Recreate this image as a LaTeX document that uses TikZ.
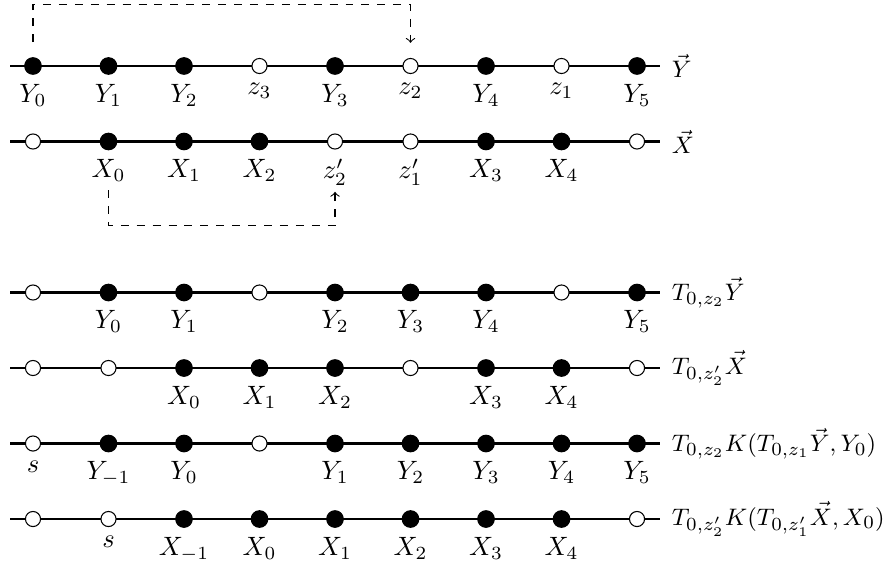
\documentclass[tikz,border=0pt]{standalone}
\usepackage{amsmath, amssymb}
\usepackage{tikz}
\usetikzlibrary{arrows.meta, positioning}

\begin{document}
\begin{tikzpicture}[
  fulldot/.style  = {circle, draw=black, fill=black, inner sep=0pt,
                     minimum size=2.2mm},
  opendot/.style  = {circle, draw=black, fill=white, inner sep=0pt,
                     minimum size=2.0mm},
  rail/.style     = {line width=0.8pt},
  jump/.style     = {dashed, -to},
  rowlbl/.style   = {anchor=west, inner sep=4.2pt,
                     font=\fontsize{9.5}{11}\selectfont},
]
\useasboundingbox (-0.437,-6.596) rectangle (11.258,0.874);
% the six lines
\coordinate (yl)  at (-0.3, 0);  \coordinate (yr)  at (8.3, 0);
\coordinate (xl)  at (-0.3,-1);  \coordinate (xr)  at (8.3,-1);
\coordinate (tyl) at (-0.3,-3);  \coordinate (tyr) at (8.3,-3);
\coordinate (txl) at (-0.3,-4);  \coordinate (txr) at (8.3,-4);
\coordinate (kyl) at (-0.3,-5);  \coordinate (kyr) at (8.3,-5);
\coordinate (kxl) at (-0.3,-6);  \coordinate (kxr) at (8.3,-6);
\draw[rail] (yl)  -- (yr)  node[rowlbl] {$\vec{Y}$};
\draw[rail] (xl)  -- (xr)  node[rowlbl] {$\vec{X}$};
\draw[rail] (tyl) -- (tyr) node[rowlbl] {$T_{0,z_2}\vec{Y}$};
\draw[rail] (txl) -- (txr) node[rowlbl] {$T_{0,z'_2}\vec{X}$};
\draw[rail] (kyl) -- (kyr) node[rowlbl] {$T_{0,z_2}K(T_{0,z_1}\vec{Y},Y_0)$};
\draw[rail] (kxl) -- (kxr) node[rowlbl] {$T_{0,z'_2}K(T_{0,z'_1}\vec{X},X_0)$};
% points of each line
\foreach \s/\l [count=\i from 0] in {fulldot/Y_0, fulldot/Y_1, fulldot/Y_2,
    opendot/z_3, fulldot/Y_3, opendot/z_2, fulldot/Y_4, opendot/z_1, fulldot/Y_5}
  \node[\s, label={below:$\l$}] (y\i) at (\i,0) {};
\foreach \s/\l [count=\i from 0] in {opendot/{}, fulldot/X_0, fulldot/X_1,
    fulldot/X_2, opendot/z'_2, opendot/z'_1, fulldot/X_3, fulldot/X_4, opendot/{}}
  \node[\s, label={below:$\l$}] (x\i) at (\i,-1) {};
\foreach \s/\l [count=\i from 0] in {opendot/{}, fulldot/Y_0, fulldot/Y_1,
    opendot/{}, fulldot/Y_2, fulldot/Y_3, fulldot/Y_4, opendot/{}, fulldot/Y_5}
  \node[\s, label={below:$\l$}] (ty\i) at (\i,-3) {};
\foreach \s/\l [count=\i from 0] in {opendot/{}, opendot/{}, fulldot/X_0,
    fulldot/X_1, fulldot/X_2, opendot/{}, fulldot/X_3, fulldot/X_4, opendot/{}}
  \node[\s, label={below:$\l$}] (tx\i) at (\i,-4) {};
\foreach \s/\l [count=\i from 0] in {opendot/s, fulldot/Y_{-1}, fulldot/Y_0,
    opendot/{}, fulldot/Y_1, fulldot/Y_2, fulldot/Y_3, fulldot/Y_4, fulldot/Y_5}
  \node[\s, label={below:$\l$}] (ky\i) at (\i,-5) {};
\foreach \s/\l [count=\i from 0] in {opendot/{}, opendot/s, fulldot/X_{-1},
    fulldot/X_0, fulldot/X_1, fulldot/X_2, fulldot/X_3, fulldot/X_4, opendot/{}}
  \node[\s, label={below:$\l$}] (kx\i) at (\i,-6) {};
% shifts
\draw[jump] ([yshift=2mm]y0.north) -- ++(0,0.5) -| ([yshift=2mm]y5.north);
\draw[jump] ([yshift=-5.3mm]x1.south) -- ++(0,-0.47) -| ([yshift=-5.6mm]x4.south);
\end{tikzpicture}
\end{document}
